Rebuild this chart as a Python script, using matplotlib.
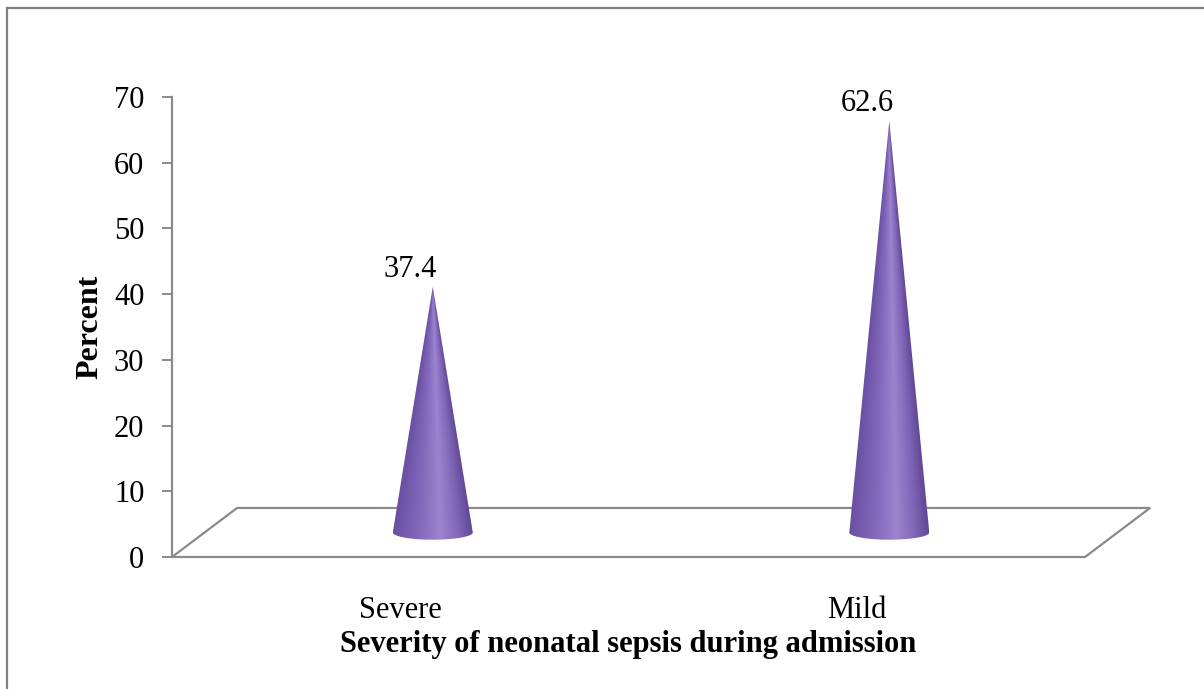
import numpy as np
import matplotlib.pyplot as plt
from matplotlib.patches import Polygon
from matplotlib.lines import Line2D
from matplotlib.colors import LinearSegmentedColormap

plt.rcParams['font.family'] = ['Liberation Serif', 'DejaVu Serif']

categories = ['Severe', 'Mild']
percent = [37.4, 62.6]
yticks = [0, 10, 20, 30, 40, 50, 60, 70]

# depth of the 3d floor, in data units (back edge / middle of floor)
dx_back, dy_back = 0.1424, 7.46
dx_mid, dy_mid = dx_back / 2, dy_back / 2
cone_a, cone_b = 0.0876, 1.1   # base ellipse half width / half height

fig = plt.figure(figsize=(12.04, 6.89), dpi=100)
ax = fig.add_axes([0.1429, 0.1916, 0.7583, 0.6676])
ax.set_xlim(-0.5, 1.5)
ax.set_ylim(0, 70)

grey = '#8a8a8a'
for s in ['top', 'right', 'bottom']:
    ax.spines[s].set_visible(False)
ax.spines['left'].set_color(grey)
ax.spines['left'].set_linewidth(1.6)

ax.set_yticks(yticks)
ax.set_yticklabels([str(t) for t in yticks], fontsize=22)
ax.tick_params(axis='y', length=7, width=1.4, color=grey, pad=13)
ax.set_xticks(range(len(categories)))
ax.set_xticklabels(categories, fontsize=22)
ax.tick_params(axis='x', length=0, pad=28)

ax.set_ylabel('Percent', fontsize=23, fontweight='bold', labelpad=7)
ax.set_xlabel('Severity of neonatal sepsis during admission', fontsize=22,
              fontweight='bold', labelpad=4)

# floor
x0, x1 = -0.5, 1.5
floor = Polygon([(x0, 0), (x1, 0), (x1 + dx_back, dy_back), (x0 + dx_back, dy_back)],
                closed=True, fill=False, edgecolor=grey, lw=1.6, clip_on=False, zorder=1)
ax.add_patch(floor)

cmap = LinearSegmentedColormap.from_list('cone', [
    (0.0, '#6a50a2'), (0.3, '#8166b9'), (0.6, '#9c84cf'),
    (0.85, '#7d62b3'), (1.0, '#624897')])

for i, v in enumerate(percent):
    cx = i + dx_mid
    yb = dy_mid
    top = v + dy_mid
    t = np.linspace(0, -np.pi, 60)
    base = np.column_stack([cx + cone_a * np.cos(t), yb + cone_b * np.sin(t)])
    pts = np.vstack([[cx, top], base])
    poly = Polygon(pts, closed=True, facecolor='none', edgecolor='none',
                   clip_on=False, zorder=3)
    ax.add_patch(poly)

    # shading across the cone, following its local width
    ny, nx = 400, 160
    ys = np.linspace(top, yb - cone_b, ny)
    xs = np.linspace(cx - cone_a, cx + cone_a, nx)
    X, Y = np.meshgrid(xs, ys)
    w = cone_a * np.clip((top - Y) / (top - yb), 1e-3, None)
    u = np.clip((X - cx) / w, -1, 1)
    img = ax.imshow((u + 1) / 2, cmap=cmap, vmin=0, vmax=1, aspect='auto',
                    extent=[cx - cone_a, cx + cone_a, yb - cone_b, top],
                    origin='upper', interpolation='bilinear', zorder=3)
    img.set_clip_path(poly)

    ax.annotate(f'{v:.1f}', (i + 0.022, top), xytext=(0, 7),
                textcoords='offset points', ha='center', va='baseline',
                fontsize=22, annotation_clip=False)

ax.set_xlim(-0.5, 1.5)
ax.set_ylim(0, 70)

# frame edges on the left and top
fig.add_artist(Line2D([7 / 1204, 7 / 1204], [0, 1 - 8 / 689], color='#808080', lw=1.6))
fig.add_artist(Line2D([7 / 1204, 1], [1 - 8 / 689, 1 - 8 / 689], color='#808080', lw=1.6))

fig.savefig('out.png', dpi=100)
